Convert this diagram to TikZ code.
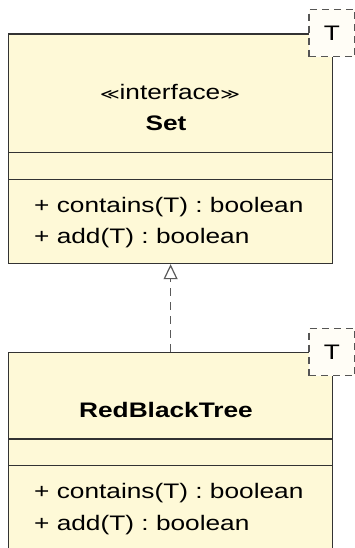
\documentclass[tikz,border=0pt]{standalone}
\usepackage{fontspec}
\setmainfont{Liberation Sans}[FakeStretch=1.25]
\newfontfamily\symfont{DejaVu Sans}[FakeStretch=1.25]
\usetikzlibrary{arrows.meta}

\definecolor{classfill}{RGB}{254,249,215}
\definecolor{classline}{RGB}{51,51,51}
\definecolor{parmfill}{RGB}{255,253,246}
\definecolor{parmline}{RGB}{85,85,85}
\definecolor{linkline}{RGB}{90,90,90}

\tikzset{
  classbox/.style={draw=classline, fill=classfill, line width=1.2pt,
    rectangle, inner sep=0pt, anchor=north west,
    minimum width=324pt},
  partline/.style={draw=classline, line width=1.2pt},
  typeparm/.style={draw=parmline, fill=parmfill, line width=1.2pt,
    dash pattern=on 7pt off 5pt, rectangle, inner sep=0pt,
    minimum width=46pt, minimum height=47.5pt,
    font=\fontsize{21pt}{25pt}\selectfont},
  txt/.style={inner sep=0pt, anchor=base west,
    font=\fontsize{21pt}{25pt}\selectfont},
  ctxt/.style={inner sep=0pt, anchor=base,
    font=\fontsize{21pt}{25pt}\selectfont},
  realizes/.style={draw=linkline, line width=1.2pt,
    dash pattern=on 8pt off 6pt,
    -{Triangle[open, length=15pt, width=14pt, line width=1.2pt]}}
}

\begin{document}
\begin{tikzpicture}[x=1pt, y=-1pt]
  \clip (0,0) rectangle (355,548);
  \useasboundingbox (0,0) rectangle (355,548);

  % interface Set
  \node[classbox, minimum height=229.5pt] (set) at (8,33.5) {};
  \draw[partline] (8,152.7) -- (332,152.7);
  \draw[partline] (8,179.3) -- (332,179.3);
  \node[ctxt] (stereo) at (170,100)
    {{\symfont\fontsize{15pt}{18pt}\selectfont ≪}interface{\symfont\fontsize{15pt}{18pt}\selectfont ≫}};
  \node[ctxt, font=\fontsize{21pt}{25pt}\selectfont\bfseries] (setname) at (166,131) {Set};
  \node[txt] (setop1) at (34,212) {+ contains(T) : boolean};
  \node[txt] (setop2) at (34,243.5) {+ add(T) : boolean};
  \node[typeparm] (setparm) at (332,32.9) {T};

  % class RedBlackTree
  \node[classbox, minimum height=220pt] (rbt) at (8,351.7) {};
  \draw[partline] (8,439) -- (332,439);
  \draw[partline] (8,465.7) -- (332,465.7);
  \node[ctxt, font=\fontsize{21pt}{25pt}\selectfont\bfseries] (rbtname) at (166,417.5) {RedBlackTree};
  \node[txt] (rbtop1) at (34,498.5) {+ contains(T) : boolean};
  \node[txt] (rbtop2) at (34,530) {+ add(T) : boolean};
  \node[typeparm] (rbtparm) at (332,352) {T};

  % realization
  \draw[realizes] (rbt.north) -- (set.south);
\end{tikzpicture}
\end{document}
